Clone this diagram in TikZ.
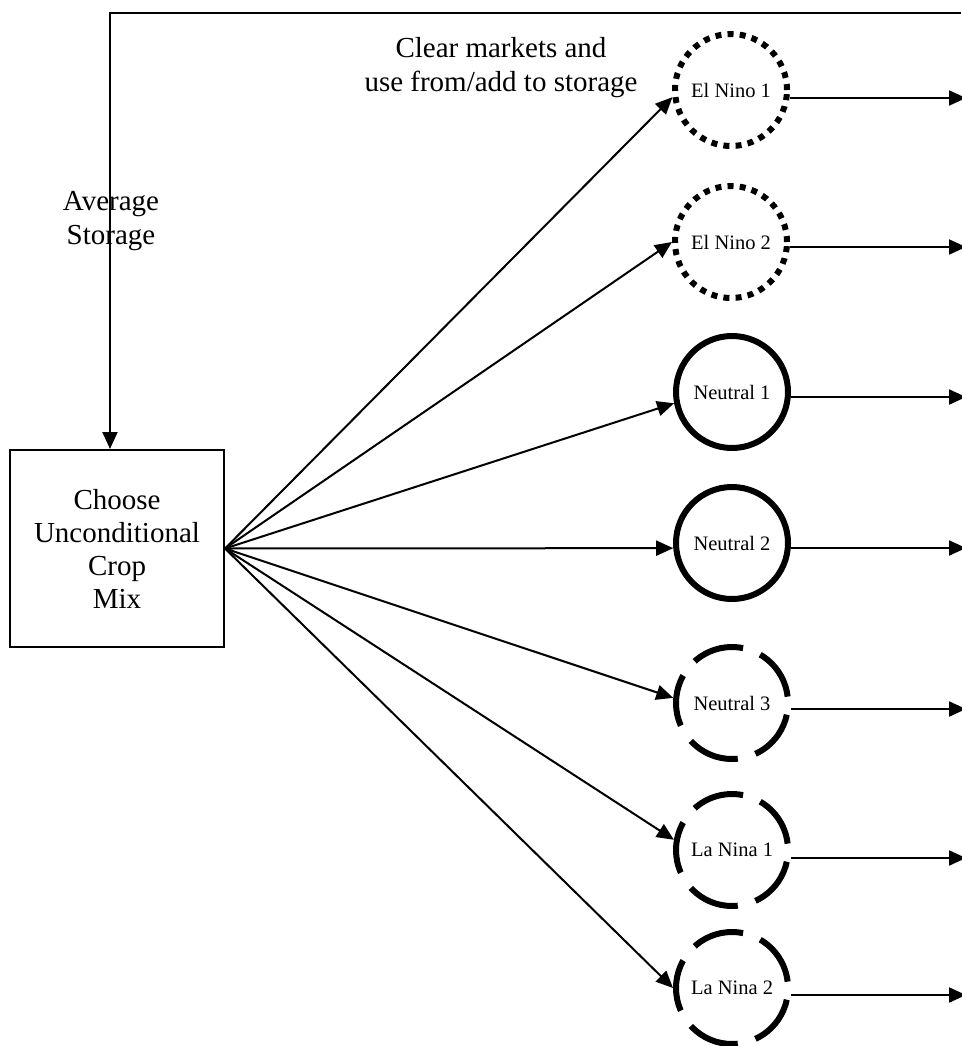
\documentclass[tikz,border=0pt]{standalone}
\usepackage{fontspec}
\setmainfont{Liberation Serif}
\usetikzlibrary{arrows.meta}

\begin{document}
\begin{tikzpicture}[x=1pt,y=-1pt,
    conn/.style={line width=2pt,-{Triangle[length=17pt,width=15pt]}},
    state/.style={draw,circle,line width=6pt,minimum size=112pt,inner sep=0pt,font=\fontsize{20.5}{24}\selectfont},
    elnino/.style={state,dash pattern=on 6pt off 6.2pt},
    neutral/.style={state},
    lanina/.style={state,dash pattern=on 52pt off 18.4pt,dash phase=64pt},
    bigtext/.style={align=center,font=\fontsize{29}{34}\selectfont}]
                \useasboundingbox (0,0) rectangle (961,1046);
                \node[draw,line width=2pt,minimum width=214pt,minimum height=197pt,align=center,font=\fontsize{29}{33}\selectfont] (mix) at (117,548.5) {Choose\\Unconditional\\Crop\\Mix};
                \node[bigtext] (avg) at (111,221) {Average\\Storage};
                \node[bigtext] (clear) at (501,68) {Clear markets and\\use from/add to storage};
                \node[elnino] (en1) at (731,90) {El Nino 1};
                \node[elnino] (en2) at (731,242) {El Nino 2};
                \node[neutral] (ne1) at (732,392) {Neutral 1};
                \node[neutral] (ne2) at (732,543) {Neutral 2};
                \node[lanina] (ne3) at (732,703) {Neutral 3};
                \node[lanina] (ln1) at (732,850) {La Nina 1};
                \node[lanina] (ln2) at (732,988) {La Nina 2};
                \coordinate (back) at (961,13);
                \coordinate (o1) at (966,98);
                \coordinate (o2) at (966,247);
                \coordinate (o3) at (966,397);
                \coordinate (o4) at (966,548);
                \coordinate (o5) at (966,709);
                \coordinate (o6) at (966,858);
                \coordinate (o7) at (966,995);
                \draw[conn] (back) -| ([xshift=-7pt]mix.north);
                \draw[conn] (mix.east) -- (en1.187);
                \draw[conn] (mix.east) -- (en2.180);
                \draw[conn] (mix.east) -- (ne1.191);
                \draw[conn] (mix.east) -- (ne2.185);
                \draw[conn] (mix.east) -- (ne3.175);
                \draw[conn] (mix.east) -- (ln1.170);
                \draw[conn] (mix.east) -- (ln2.180);
                \draw[conn] (en1.east |- o1) -- (o1);
                \draw[conn] (en2.east |- o2) -- (o2);
                \draw[conn] (ne1.east |- o3) -- (o3);
                \draw[conn] (ne2.east |- o4) -- (o4);
                \draw[conn] (ne3.east |- o5) -- (o5);
                \draw[conn] (ln1.east |- o6) -- (o6);
                \draw[conn] (ln2.east |- o7) -- (o7);
            \end{tikzpicture}
\end{document}
